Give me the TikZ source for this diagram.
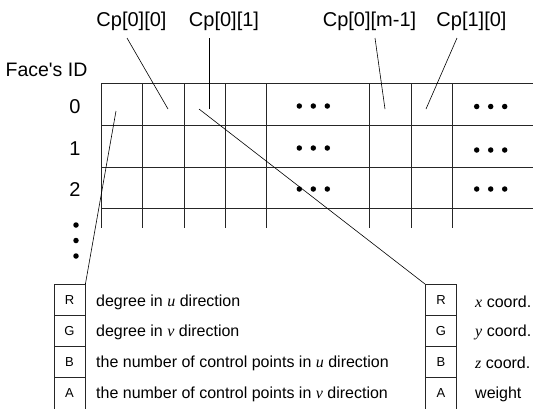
\documentclass[tikz,border=0pt]{standalone}
\usepackage{fontspec}
\setmainfont{Liberation Sans}
\newfontfamily\plainsf{Liberation Sans}
\newfontfamily\serifit{Liberation Serif}
\newcommand{\mv}[1]{{\serifit\itshape #1}}
\begin{document}
\begin{tikzpicture}[x=1pt,y=-1pt,
  grid/.style={line width=0.8pt, draw=black!85},
  lead/.style={line width=0.6pt, draw=black},
  big/.style={font=\fontsize{20}{23}\selectfont, inner sep=0pt},
  desc/.style={font=\fontsize{16}{19}\selectfont, anchor=west, inner sep=0pt},
  dotm/.style={circle, fill=black, inner sep=0pt, minimum size=5.5pt},
  cell/.style={draw=black!85, line width=0.8pt, minimum width=31pt, minimum height=31pt, inner sep=0pt, font=\fontsize{13}{15}\selectfont},
  lastcell/.style={cell, minimum height=35pt}]
\useasboundingbox (0,0) rectangle (533,408);

% grid
\foreach \y in {83,125,167,208} \draw[grid] (101,\y) -- (533,\y);
\foreach \x in {101,142.5,184,225,266,369,411,452} \draw[grid] (\x,83) -- (\x,228);

% dots in grid
\foreach \yy/\n in {106/a,148/b,189/c}{
  \foreach \xx/\m in {299.3/1,313.3/2,327.3/3}{
    \node[dotm] (d\n\m) at (\xx,\yy) {};
  }
}
\foreach \yy/\n in {106.5/a,150/b,189/c}{
  \foreach \xx/\m in {476.7/1,490.7/2,504.7/3}{
    \node[dotm] (e\n\m) at (\xx,\yy) {};
  }
}

% labels
\node[big] (cp00) at (131.5,21) {Cp[0][0]};
\node[big] (cp01) at (224,21) {Cp[0][1]};
\node[big] (cp0m) at (369.5,21) {Cp[0][m-1]};
\node[big] (cp10) at (471.5,21) {Cp[1][0]};
\node[big, font=\plainsf\fontsize{19.5}{23}\selectfont] (face) at (46.5,70) {Face's ID};
\node[big] (r0) at (75,107) {0};
\node[big] (r1) at (75,149) {1};
\node[big] (r2) at (75,190) {2};
\node[dotm] (v1) at (76,225) {};
\node[dotm] (v2) at (76,240.5) {};
\node[dotm] (v3) at (76,256) {};

% leader coordinates
\coordinate (a0) at (127,38);   \coordinate (a1) at (168,109);
\coordinate (b0) at (209,38);   \coordinate (b1) at (209,109);
\coordinate (c0) at (375,38);   \coordinate (c1) at (385,109);
\coordinate (f0) at (457,38);   \coordinate (f1) at (426,109);
\coordinate (g0) at (116,111);
\coordinate (h0) at (199,109);

% left table
\node[cell] (LR) at (69.5,300) {R};
\node[cell] (LG) at (69.5,331) {G};
\node[cell] (LB) at (69.5,362) {B};
\node[lastcell] (LA) at (69.5,395) {};
\node[font=\fontsize{13}{15}\selectfont, inner sep=0pt] (LAt) at (69.5,393) {A};
% right table
\node[cell] (RR) at (441,300) {R};
\node[cell] (RG) at (441,331) {G};
\node[cell] (RB) at (441,362) {B};
\node[lastcell] (RA) at (441,395) {};
\node[font=\fontsize{13}{15}\selectfont, inner sep=0pt] (RAt) at (441,393) {A};

% descriptions
\node[desc] (t1) at (96,302) {degree in \mv{u} direction};
\node[desc] (t2) at (96,332) {degree in \mv{v} direction};
\node[desc] (t3) at (96,363) {the number of control points in \mv{u} direction};
\node[desc] (t4) at (96,394) {the number of control points in \mv{v} direction};
\node[desc] (s1) at (475,302) {\mv{x} coord.};
\node[desc] (s2) at (475,332) {\mv{y} coord.};
\node[desc] (s3) at (475,363) {\mv{z} coord.};
\node[desc] (s4) at (475,394) {weight};

% leaders
\draw[lead] (a0) -- (a1);
\draw[lead] (b0) -- (b1);
\draw[lead] (c0) -- (c1);
\draw[lead] (f0) -- (f1);
\draw[lead] (g0) -- (LR.north east);
\draw[lead] (h0) -- (RR.north west);
\end{tikzpicture}
\end{document}
